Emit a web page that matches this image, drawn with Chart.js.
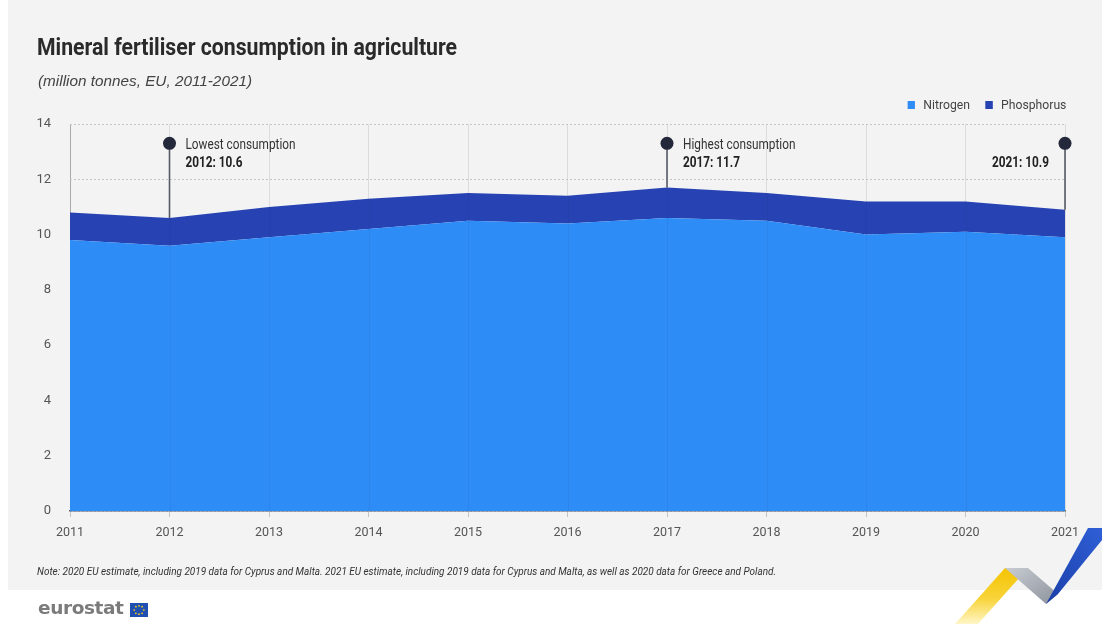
<!DOCTYPE html>
<html><head><meta charset="utf-8">
<script src="https://cdn.jsdelivr.net/npm/chart.js@4.4.0/dist/chart.umd.min.js"></script>
<style>
html,body{margin:0;padding:0;background:#fff;}
#wrap{position:relative;width:1102px;height:624px;overflow:hidden;background:#fff;}
#bg{position:absolute;left:8px;top:0;width:1094px;height:590px;background:#f3f3f3;}
#c{position:absolute;left:0;top:0;}
.t{position:absolute;white-space:nowrap;line-height:1;}
.narrow{font-family:Roboto,"Liberation Sans",sans-serif;}
#title{left:37px;top:36px;font-size:23px;font-weight:bold;color:#2a2a2a;transform-origin:0 50%;}
#sub{left:38px;top:74px;font-size:14.5px;font-style:italic;color:#444;font-family:"Liberation Sans",Arial,sans-serif;transform-origin:0 50%;}
#legend{right:36px;top:98px;font-size:13px;color:#444;transform-origin:100% 50%;}
#legend span.sq{display:inline-block;width:8px;height:8px;margin-right:9px;vertical-align:0px;}
#legend span.lb{margin-right:16px;}
#note{left:37px;top:566px;font-size:11px;font-style:italic;color:#333;transform-origin:0 50%;}
#logo{left:38px;top:599px;font-family:"DejaVu Sans",Verdana,sans-serif;font-weight:bold;font-size:18.5px;color:#7b7b7b;letter-spacing:-0.4px;}
svg{position:absolute;}
</style></head>
<body><div id="wrap">
<div id="bg"></div>
<canvas id="c" width="1102" height="624"></canvas>
<div class="t narrow" id="title">Mineral fertiliser consumption in agriculture</div>
<div class="t" id="sub">(million tonnes, EU, 2011-2021)</div>
<div class="t narrow" id="legend"><span class="sq" style="background:#2d8cf6"></span><span class="lb">Nitrogen</span><span class="sq" style="background:#2743b3"></span><span>Phosphorus</span></div>
<div class="t narrow" id="note">Note: 2020 EU estimate, including 2019 data for Cyprus and Malta. 2021 EU estimate, including 2019 data for Cyprus and Malta, as well as 2020 data for Greece and Poland.</div>
<div class="t" id="logo">eurostat</div>
<svg style="left:130px;top:603px" width="18" height="14" viewBox="0 0 18 14">
<rect width="18" height="14" fill="#1f4fb0"/>
<g fill="#ffd617"><circle cx="9" cy="2.8" r="0.85"/><circle cx="12.1" cy="3.7" r="0.85"/><circle cx="13.8" cy="7" r="0.85"/><circle cx="12.1" cy="10.3" r="0.85"/><circle cx="9" cy="11.2" r="0.85"/><circle cx="5.9" cy="10.3" r="0.85"/><circle cx="4.2" cy="7" r="0.85"/><circle cx="5.9" cy="3.7" r="0.85"/></g>
</svg>
<svg style="left:940px;top:520px" width="162" height="104" viewBox="940 520 162 104">
<defs>
<linearGradient id="gy" x1="0" y1="1" x2="0" y2="0"><stop offset="0" stop-color="#fff6c8"/><stop offset="0.45" stop-color="#f8d43a"/><stop offset="1" stop-color="#f4c300"/></linearGradient>
<linearGradient id="gg" x1="0" y1="0" x2="1" y2="1"><stop offset="0" stop-color="#c8ccd2"/><stop offset="1" stop-color="#8d939c"/></linearGradient>
<linearGradient id="gb" x1="0" y1="1" x2="1" y2="0"><stop offset="0" stop-color="#1a3ea8"/><stop offset="1" stop-color="#2f5fd6"/></linearGradient>
</defs>
<polygon points="955,624 978,624 1028,568 1005,568" fill="url(#gy)"/>
<polygon points="1005,568 1028,568 1058,594 1046,604" fill="url(#gg)"/>
<polygon points="1046,604 1058,594 1102,540 1102,528 1088,528" fill="url(#gb)"/>
</svg>
</div>
<script>
const years = ['2011','2012','2013','2014','2015','2016','2017','2018','2019','2020','2021'];
const nitrogen = [9.8, 9.6, 9.9, 10.2, 10.5, 10.4, 10.6, 10.5, 10.0, 10.1, 9.9];
const phosphorus = [1.0, 1.0, 1.1, 1.1, 1.0, 1.0, 1.1, 1.0, 1.2, 1.1, 1.0];
const yTicks = [0, 2, 4, 6, 8, 10, 12, 14];
const annotationYears = ['2012', '2017', '2021'];
const annotationHeadings = ['Lowest consumption', 'Highest consumption', ''];
const annotationValues = ['2012: 10.6', '2017: 11.7', '2021: 10.9'];
const MARKER_LEVEL = 13.3;

const NARROW = 'Roboto,"Liberation Sans",sans-serif';

function fitWidth(id, target) {
  const el = document.getElementById(id);
  const w = el.getBoundingClientRect().width;
  el.style.transform = 'scaleX(' + (target / w) + ')';
}
fitWidth('title', 420);
fitWidth('sub', 214);
fitWidth('legend', 159);
fitWidth('note', 739);

function narrowText(ctx, text, x, y, align, sx) {
  ctx.save();
  ctx.translate(x, y);
  ctx.scale(sx, 1);
  ctx.textAlign = align;
  ctx.textBaseline = 'middle';
  ctx.fillText(text, 0, 0);
  ctx.restore();
}

const annot = {
  id: 'annot',
  afterDatasetsDraw(chart) {
    const {ctx, chartArea} = chart;
    const xs = chart.scales.x, ys = chart.scales.y;
    ctx.save();
    ctx.strokeStyle = 'rgba(0,0,0,0.045)';
    ctx.lineWidth = 1;
    years.forEach((y, i) => {
      if (i === 0 || i === years.length - 1) return;
      const x = Math.round(xs.getPixelForValue(i)) + 0.5;
      ctx.beginPath(); ctx.moveTo(x, ys.getPixelForValue(nitrogen[i] + phosphorus[i])); ctx.lineTo(x, chartArea.bottom); ctx.stroke();
    });
    ctx.font = '14px ' + NARROW;
    const sx = 110 / ctx.measureText('Lowest consumption').width;
    annotationYears.forEach((yr, k) => {
      const i = years.indexOf(yr);
      const x = xs.getPixelForValue(i);
      const yTop = ys.getPixelForValue(nitrogen[i] + phosphorus[i]);
      const yDot = ys.getPixelForValue(MARKER_LEVEL);
      ctx.strokeStyle = '#555a66';
      ctx.lineWidth = 1.6;
      ctx.beginPath(); ctx.moveTo(x, yDot); ctx.lineTo(x, yTop); ctx.stroke();
      ctx.fillStyle = '#23283a';
      ctx.beginPath(); ctx.arc(x, yDot, 6.5, 0, Math.PI * 2); ctx.fill();
      const last = i === years.length - 1;
      const align = last ? 'right' : 'left';
      const tx = last ? x - 16 : x + 16;
      if (annotationHeadings[k]) {
        ctx.font = '14px ' + NARROW;
        ctx.fillStyle = '#333';
        narrowText(ctx, annotationHeadings[k], tx, yDot + 2.5, align, sx);
      }
      ctx.font = 'bold 14px ' + NARROW;
      ctx.fillStyle = '#222';
      narrowText(ctx, annotationValues[k], tx, yDot + 20, align, sx);
    });
    ctx.restore();
  }
};

new Chart(document.getElementById('c'), {
  type: 'line',
  data: {
    labels: years,
    datasets: [
      {label: 'Nitrogen', data: nitrogen, backgroundColor: '#2d8cf6', borderColor: '#2d8cf6', borderWidth: 0, fill: 'origin', pointRadius: 0, tension: 0},
      {label: 'Phosphorus', data: phosphorus, backgroundColor: '#2743b3', borderColor: '#2743b3', borderWidth: 0, fill: '-1', pointRadius: 0, tension: 0}
    ]
  },
  options: {
    responsive: false,
    animation: false,
    devicePixelRatio: 1,
    layout: {padding: {left: 30, right: 37, top: 124, bottom: 73}},
    plugins: {legend: {display: false}, tooltip: {enabled: false}, title: {display: false}},
    elements: {line: {borderWidth: 0}},
    scales: {
      x: {
        offset: false,
        afterFit(s) { s.height = 40; },
        grid: {color: (c) => c.index === 0 ? '#a8a8a8' : '#dcdcdc', lineWidth: 1, drawTicks: true, tickLength: 6, tickColor: '#c4c4c4'},
        border: {display: true, color: '#5d6270', width: 1.5},
        ticks: {color: '#555', padding: 8, maxRotation: 0, autoSkip: false, font: {family: NARROW, size: 12.5}}
      },
      y: {
        stacked: true,
        min: 0, max: 14,
        afterFit(s) { s.width = 40; },
        afterBuildTicks(s) { s.ticks = yTicks.map(v => ({value: v})); },
        grid: {color: '#c6c6c6', lineWidth: 1, drawTicks: false},
        border: {display: false, dash: [2, 2]},
        ticks: {color: '#555', padding: 19, font: {family: NARROW, size: 13}}
      }
    }
  },
  plugins: [annot]
});
</script>
</body></html>
